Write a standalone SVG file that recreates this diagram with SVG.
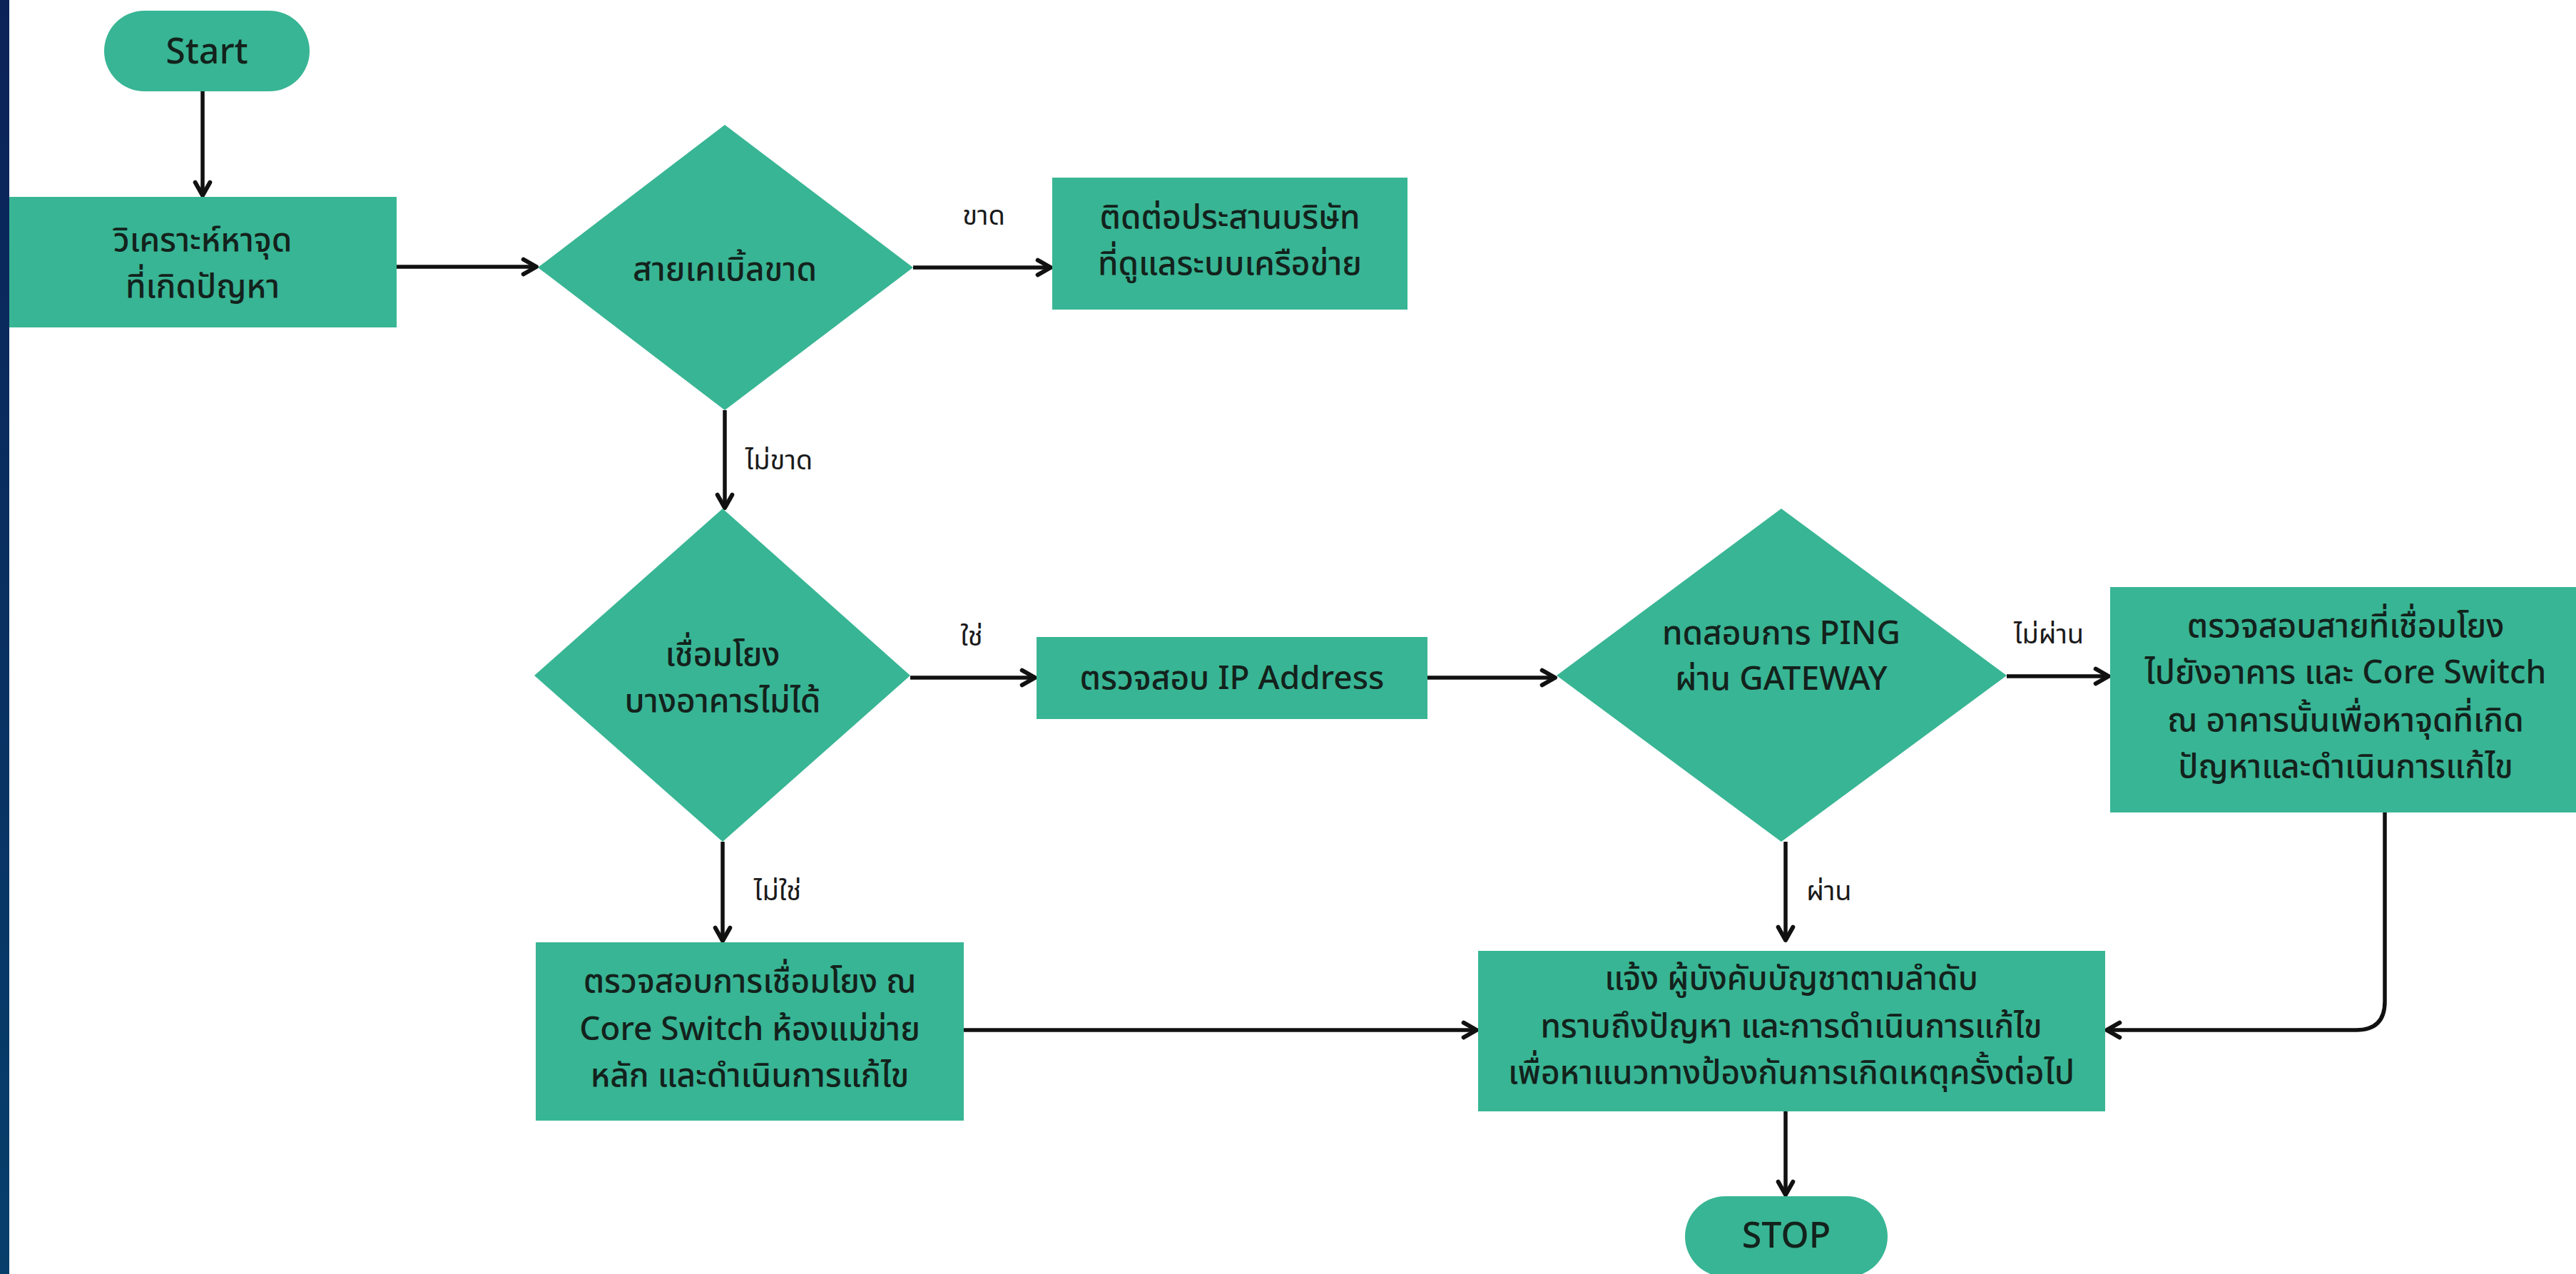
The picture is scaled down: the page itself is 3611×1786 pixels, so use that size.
<svg xmlns="http://www.w3.org/2000/svg" width="3611" height="1786" viewBox="0 0 3611 1786">
  <defs>
    <linearGradient id="barGrad" x1="0" y1="0" x2="0" y2="1">
      <stop offset="0" stop-color="#0b2258"/>
      <stop offset="1" stop-color="#073f6b"/>
    </linearGradient>
    <marker id="arrow" viewBox="0 0 12 12" refX="10" refY="6" markerWidth="5" markerHeight="5" markerUnits="strokeWidth" orient="auto">
      <path d="M2,1.5 L10,6 L2,10.5" fill="none" stroke="#111" stroke-width="2.6" stroke-linecap="round" stroke-linejoin="round"/>
    </marker>
    <style>
      .shape { fill: #38b594; }
      .txt { font-family: "Noto Sans", "Noto Sans Thai", "Liberation Sans", sans-serif; font-size: 46px; font-weight: 500; fill: #13221c; text-anchor: middle; }
      .term { font-size: 50px; }
      .lbl { font-family: "Noto Sans", "Noto Sans Thai", "Liberation Sans", sans-serif; font-size: 38px; fill: #1a1a1a; text-anchor: middle; }
      .conn { fill: none; stroke: #111; stroke-width: 5.5; marker-end: url(#arrow); }
    </style>
  </defs>

  <rect width="3611" height="1786" fill="#ffffff"/>
  <rect x="0" y="0" width="13" height="1786" fill="url(#barGrad)"/>

  <g id="connectors">
    <line class="conn" x1="284" y1="128" x2="284" y2="274"/>
    <line class="conn" x1="556" y1="374" x2="752" y2="374"/>
    <line class="conn" x1="1280" y1="375" x2="1473" y2="375"/>
    <line class="conn" x1="1016" y1="575" x2="1016" y2="712"/>
    <line class="conn" x1="1276" y1="950" x2="1451" y2="950"/>
    <line class="conn" x1="2001" y1="950" x2="2180" y2="950"/>
    <line class="conn" x1="2813" y1="948" x2="2956" y2="948"/>
    <line class="conn" x1="1013" y1="1180" x2="1013" y2="1319"/>
    <line class="conn" x1="2503" y1="1180" x2="2503" y2="1318"/>
    <line class="conn" x1="1351" y1="1444" x2="2070" y2="1444"/>
    <path class="conn" d="M3343,1139 V1404 Q3343,1444 3303,1444 H2953"/>
    <line class="conn" x1="2503" y1="1558" x2="2503" y2="1675"/>
    <text class="lbl" x="1379" y="315">ขาด</text>
    <text class="lbl" x="1092" y="658">ไม่ขาด</text>
    <text class="lbl" x="1362" y="905">ใช่</text>
    <text class="lbl" x="2872" y="902">ไม่ผ่าน</text>
    <text class="lbl" x="1090" y="1262">ไม่ใช่</text>
    <text class="lbl" x="2564" y="1262">ผ่าน</text>
  </g>

  <g id="start">
    <rect class="shape" x="146" y="15" width="288" height="113" rx="56.5"/>
    <text class="txt term" x="290" y="89">Start</text>
  </g>

  <g id="analyze">
    <rect class="shape" x="13" y="276" width="543" height="183"/>
    <text class="txt" x="284" y="352">วิเคราะห์หาจุด</text>
    <text class="txt" x="284" y="417">ที่เกิดปัญหา</text>
  </g>

  <g id="cable-broken">
    <polygon class="shape" points="1016,175 1280,375 1016,575 754,375"/>
    <text class="txt" x="1016" y="393">สายเคเบิ้ลขาด</text>
  </g>

  <g id="contact-vendor">
    <rect class="shape" x="1475" y="249" width="498" height="185"/>
    <text class="txt" x="1724" y="320">ติดต่อประสานบริษัท</text>
    <text class="txt" x="1724" y="385">ที่ดูแลระบบเครือข่าย</text>
  </g>

  <g id="building-offline">
    <polygon class="shape" points="1013,713 1276,947 1013,1180 749,947"/>
    <text class="txt" x="1013" y="933">เชื่อมโยง</text>
    <text class="txt" x="1013" y="998">บางอาคารไม่ได้</text>
  </g>

  <g id="check-ip">
    <rect class="shape" x="1453" y="893" width="548" height="115"/>
    <text class="txt" x="1727" y="966">ตรวจสอบ IP Address</text>
  </g>

  <g id="ping-gateway">
    <polygon class="shape" points="2497,713 2813,947 2497,1180 2182,947"/>
    <text class="txt" x="2497" y="903">ทดสอบการ PING</text>
    <text class="txt" x="2497" y="967">ผ่าน GATEWAY</text>
  </g>

  <g id="check-building-link">
    <rect class="shape" x="2958" y="823" width="653" height="316"/>
    <text class="txt" x="3288" y="893">ตรวจสอบสายที่เชื่อมโยง</text>
    <text class="txt" x="3288" y="958">ไปยังอาคาร และ Core Switch</text>
    <text class="txt" x="3288" y="1025">ณ อาคารนั้นเพื่อหาจุดที่เกิด</text>
    <text class="txt" x="3288" y="1090">ปัญหาและดำเนินการแก้ไข</text>
  </g>

  <g id="check-core-switch">
    <rect class="shape" x="751" y="1321" width="600" height="250"/>
    <text class="txt" x="1051" y="1391">ตรวจสอบการเชื่อมโยง ณ</text>
    <text class="txt" x="1051" y="1458">Core Switch ห้องแม่ข่าย</text>
    <text class="txt" x="1051" y="1523">หลัก และดำเนินการแก้ไข</text>
  </g>

  <g id="report">
    <rect class="shape" x="2072" y="1333" width="879" height="225"/>
    <text class="txt" x="2511" y="1387">แจ้ง ผู้บังคับบัญชาตามลำดับ</text>
    <text class="txt" x="2511" y="1454">ทราบถึงปัญหา และการดำเนินการแก้ไข</text>
    <text class="txt" x="2511" y="1519">เพื่อหาแนวทางป้องกันการเกิดเหตุครั้งต่อไป</text>
  </g>

  <g id="stop">
    <rect class="shape" x="2362" y="1677" width="284" height="113" rx="56.5"/>
    <text class="txt term" x="2504" y="1749">STOP</text>
  </g>
</svg>
